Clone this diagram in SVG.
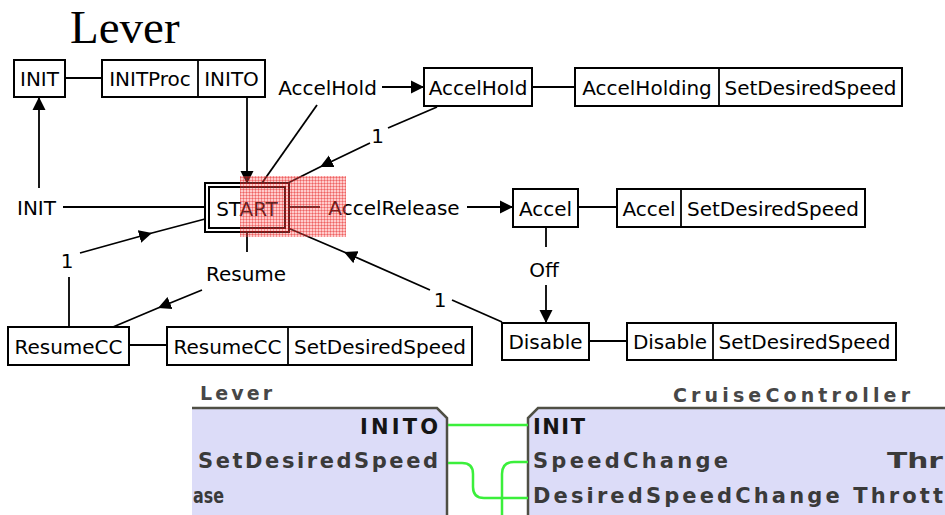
<svg xmlns="http://www.w3.org/2000/svg" width="945" height="515" viewBox="0 0 945 515">
<defs>
<style>
.box{fill:#fff;stroke:#000;stroke-width:2}
.ln{fill:none;stroke:#000;stroke-width:1.8}
.t{font-family:"DejaVu Sans",sans-serif;font-size:20px;fill:#000;text-anchor:middle}
.ft{font-family:"DejaVu Sans",sans-serif;font-size:21px;font-weight:bold;fill:#3a3a3a}
.fh{font-family:"DejaVu Sans",sans-serif;font-size:19px;font-weight:bold;fill:#474747}
.ev{fill:#151515}
.g{fill:none;stroke:#3bef3b;stroke-width:2.5}
</style>
<marker id="ah" viewBox="-13 -7 13 14" refX="0" refY="0" markerWidth="13" markerHeight="14" markerUnits="userSpaceOnUse" orient="auto">
<path d="M0,0 L-13,-6.5 L-13,6.5 Z" fill="#000"/>
</marker>
<pattern id="hl" width="3" height="3" patternUnits="userSpaceOnUse">
<rect width="3" height="3" fill="#ff6a6a" fill-opacity="0.35"/>
<rect width="3" height="1" fill="#e00000" fill-opacity="0.3"/>
<rect width="1" height="3" fill="#e00000" fill-opacity="0.3"/>
</pattern>
</defs>
<rect width="945" height="515" fill="#fff"/>
<text x="70" y="43" font-family="Liberation Serif, serif" font-size="47">Lever</text>

<g id="connectors">
<line class="ln" x1="65" y1="78" x2="102" y2="78"/>
<line class="ln" x1="532" y1="87" x2="575" y2="87"/>
<line class="ln" x1="578" y1="207" x2="617" y2="207"/>
<line class="ln" x1="589" y1="341" x2="627" y2="341"/>
<line class="ln" x1="129" y1="345" x2="167" y2="345"/>
<path class="ln" d="M247,97 L247,184" marker-end="url(#ah)"/>
<path class="ln" d="M205,207 L63,207"/>
<path class="ln" d="M39,188 L39,97" marker-end="url(#ah)"/>
<path class="ln" d="M262,183 L317,105"/>
<path class="ln" d="M382,87 L424,87" marker-end="url(#ah)"/>
<path class="ln" d="M437,107 L388,128"/>
<path class="ln" d="M370,143 L320,167 L288,183" marker-mid="url(#ah)"/>
<path class="ln" d="M289,207 L320,207"/>
<path class="ln" d="M467,207 L513,207" marker-end="url(#ah)"/>
<path class="ln" d="M546,227 L546,247"/>
<path class="ln" d="M546,285 L546,323" marker-end="url(#ah)"/>
<path class="ln" d="M502,322 L452,300"/>
<path class="ln" d="M430,290 L344,252 L288,228" marker-mid="url(#ah)"/>
<path class="ln" d="M247,232 L247,252"/>
<path class="ln" d="M202,290 L158,308 L113,327" marker-mid="url(#ah)"/>
<path class="ln" d="M69,327 L69,277"/>
<path class="ln" d="M80,253 L152,233 L205,219" marker-mid="url(#ah)"/>
</g>

<g id="labels">
<text class="t" x="36.5" y="215">INIT</text>
<text class="t" x="327.5" y="95">AccelHold</text>
<text class="t" x="377.5" y="143">1</text>
<text class="t" x="394" y="215">AccelRelease</text>
<text class="t" x="544" y="277">Off</text>
<text class="t" x="246" y="281">Resume</text>
<text class="t" x="67" y="268">1</text>
<text class="t" x="440" y="307">1</text>
</g>

<g id="INIT">
<rect class="box" x="14" y="60" width="51" height="37"/>
<text class="t" x="39.5" y="86">INIT</text>
</g>
<g id="INIT_action">
<rect class="box" x="102" y="60" width="163" height="37"/>
<line class="ln" x1="198" y1="60" x2="198" y2="97"/>
<text class="t" x="150" y="86">INITProc</text>
<text class="t" x="231.5" y="86">INITO</text>
</g>
<g id="START">
<rect class="box" x="205" y="183" width="84" height="49"/>
<rect class="box" x="209" y="187" width="76" height="41"/>
<text class="t" x="247" y="216">START</text>
</g>
<g id="AccelHold">
<rect class="box" x="424" y="68" width="108" height="38"/>
<text class="t" x="478" y="94.5">AccelHold</text>
</g>
<g id="AccelHold_action">
<rect class="box" x="575" y="68" width="327" height="38"/>
<line class="ln" x1="719" y1="68" x2="719" y2="106"/>
<text class="t" x="647" y="94.5">AccelHolding</text>
<text class="t" x="810.5" y="94.5">SetDesiredSpeed</text>
</g>
<g id="Accel">
<rect class="box" x="513" y="189" width="65" height="38"/>
<text class="t" x="545.5" y="215.5">Accel</text>
</g>
<g id="Accel_action">
<rect class="box" x="617" y="189" width="248" height="38"/>
<line class="ln" x1="681" y1="189" x2="681" y2="227"/>
<text class="t" x="649" y="215.5">Accel</text>
<text class="t" x="773" y="215.5">SetDesiredSpeed</text>
</g>
<g id="Disable">
<rect class="box" x="502" y="323" width="87" height="37"/>
<text class="t" x="545.5" y="349">Disable</text>
</g>
<g id="Disable_action">
<rect class="box" x="627" y="323" width="269" height="37"/>
<line class="ln" x1="713" y1="323" x2="713" y2="360"/>
<text class="t" x="670" y="349">Disable</text>
<text class="t" x="804.5" y="349">SetDesiredSpeed</text>
</g>
<g id="ResumeCC">
<rect class="box" x="8" y="327" width="121" height="38"/>
<text class="t" x="68.5" y="353.5">ResumeCC</text>
</g>
<g id="ResumeCC_action">
<rect class="box" x="167" y="327" width="305" height="38"/>
<line class="ln" x1="288" y1="327" x2="288" y2="365"/>
<text class="t" x="227.5" y="353.5">ResumeCC</text>
<text class="t" x="380" y="353.5">SetDesiredSpeed</text>
</g>

<rect x="240" y="176" width="106" height="61" fill="url(#hl)"/>

<g id="fb_lever">
<path d="M192,408 L437,408 L447,418 L447,515 L192,515 Z" fill="#dcdcf8"/>
<path d="M192,408 L437,408 L447,418 L447,516" fill="none" stroke="#4f4f44" stroke-width="2.5"/>
<text class="fh" x="200" y="400" textLength="72" lengthAdjust="spacing">Lever</text>
<text class="ft ev" x="360" y="434" textLength="78" lengthAdjust="spacing">INITO</text>
<text class="ft" x="198" y="468" textLength="240" lengthAdjust="spacing">SetDesiredSpeed</text>
<text class="ft" x="193" y="503" textLength="31" lengthAdjust="spacingAndGlyphs">ase</text>
</g>
<g id="fb_cruisecontroller">
<path d="M528,516 L528,418 L538,408 L946,408 L946,516 Z" fill="#dcdcf8"/>
<path d="M528,516 L528,418 L538,408 L946,408" fill="none" stroke="#4f4f44" stroke-width="2.5"/>
<text class="fh" x="673" y="402" textLength="237" lengthAdjust="spacing">CruiseController</text>
<text class="ft ev" x="533" y="434" textLength="52" lengthAdjust="spacing">INIT</text>
<text class="ft" x="533" y="468" textLength="195" lengthAdjust="spacing">SpeedChange</text>
<text class="ft" x="887" y="468" textLength="56" lengthAdjust="spacingAndGlyphs">Thr</text>
<text class="ft" x="533" y="503" textLength="410" lengthAdjust="spacing">DesiredSpeedChange Thrott</text>
</g>
<g id="fb_connections">
<path class="g" d="M448,425 L528,425"/>
<path class="g" d="M448,463 L462,463 Q473,463 473,474 L473,487 Q473,498 484,498 L528,498"/>
<path class="g" d="M528,462 L514,462 Q502,462 502,474 L502,516"/>
</g>
</svg>
